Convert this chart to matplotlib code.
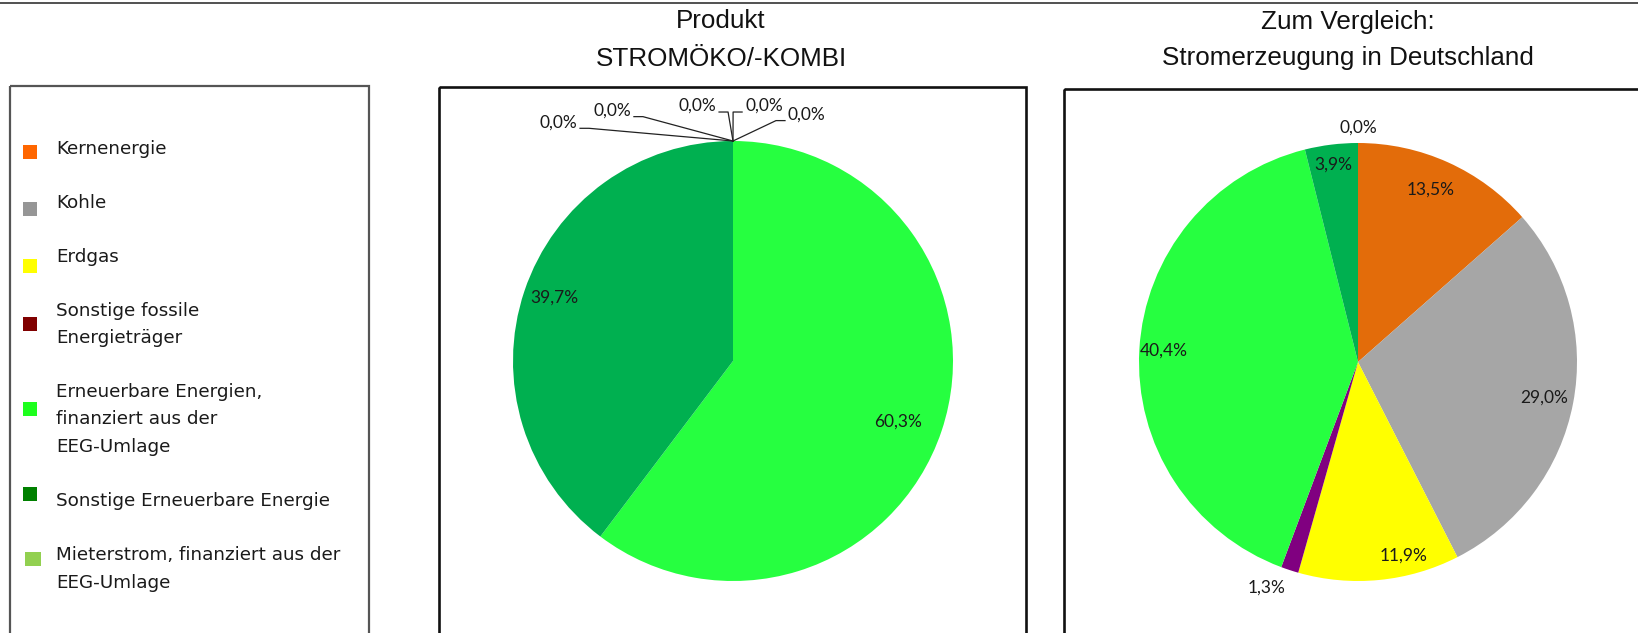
import numpy as np
import matplotlib
matplotlib.use('Agg')
import matplotlib.pyplot as plt
from matplotlib.patches import Rectangle

# --- Data
categories = ['Kernenergie', 'Kohle', 'Erdgas', 'Sonstige fossile\nEnergieträger',
              'Erneuerbare Energien,\nfinanziert aus der\nEEG-Umlage',
              'Sonstige Erneuerbare Energie',
              'Mieterstrom, finanziert aus der\nEEG-Umlage']
produkt_share = [0.0, 0.0, 0.0, 0.0, 60.3, 39.7, 0.0]
deutschland_share = [13.5, 29.0, 11.9, 1.3, 40.4, 3.9, 0.0]
title_produkt = ['Produkt', 'STROMÖKO/-KOMBI']
title_vergleich = ['Zum Vergleich:', 'Stromerzeugung in Deutschland']

legend_colors = ['#ff6600', '#969696', '#ffff00', '#800000', '#1eff1e', '#008000', '#92d050']
pie_colors = ['#e36c0a', '#a6a6a6', '#ffff00', '#800080', '#26ff40', '#00b050', '#92d050']

# --- Layout (pixels)
W, H = 1638, 633
marker_dy = [-1.3, 1.5, 4.5, 8.5, 11.7, -12.3, -1.5]
# label placement for pie 2: (distance from centre, angle offset from wedge middle)
pie2_label_layout = [(0.853, 1.3), (0.864, 0), (0.91, 7.7), (1.114, -3.9), (0.888, 0), (0.907, 0), (1.068, 0)]
pie1_label_layout = [(0.80, -1.5), (0.86, -1.1)]
# zero labels of pie 1: text anchor (x, y) in pie units, alignment
pie1_zero_pos = [(-0.709, 1.085, 'right'), (-0.464, 1.138, 'right'), (-0.077, 1.159, 'right'),
                 (0.055, 1.159, 'left'), (0.25, 1.12, 'left')]

def pct(v):
  return ('%.1f%%' % v).replace('.', ',')

fig = plt.figure(figsize=(W / 100, H / 100), dpi=100)
bg = fig.add_axes([0, 0, 1, 1])
bg.set_xlim(0, W)
bg.set_ylim(H, 0)
bg.axis('off')

# --- frames
bg.plot([0, W], [3, 3], color='#333333', lw=1.2)
bg.add_patch(Rectangle((10, 86), 359, 600, fill=False, ec='#555555', lw=1.6))
bg.add_patch(Rectangle((439, 87), 587, 600, fill=False, ec='#111111', lw=1.9))
bg.add_patch(Rectangle((1064, 89), 700, 600, fill=False, ec='#111111', lw=1.9))

# --- titles
for cx, lines in [(721, title_produkt), (1348, title_vergleich)]:
  for k, line in enumerate(lines):
    bg.text(cx, 28.5 + k * 37, line, ha='center', va='baseline', fontsize=18.7,
            family='Liberation Sans', color='#111111')

# --- legend
y = 153.5
for i, lab in enumerate(categories):
  lines = lab.split('\n')
  for k, line in enumerate(lines):
    bg.text(56, y + k * 27.5, line, va='baseline', fontsize=13.2,
            family='DejaVu Sans', color='#1a1a1a')
  last = i == len(categories) - 1
  mw = 16 if last else 14
  mx = 25 if last else 23
  bg.add_patch(Rectangle((mx, y + marker_dy[i] - 7), mw, 14, color=legend_colors[i], lw=0))
  y += 54 + 27.5 * (len(lines) - 1)

def pie_axes(cx, cy, r):
  ax = fig.add_axes([(cx - r) / W, (H - cy - r) / H, 2 * r / W, 2 * r / H])
  ax.patch.set_alpha(0)
  return ax

label_font = dict(fontsize=12.5, family='Lato', color='#1a1a1a', ha='center', va='center')

# --- Pie 1
ax1 = pie_axes(733, 361, 220)
wedges1, _ = ax1.pie(produkt_share, colors=pie_colors, startangle=90, counterclock=False,
                     wedgeprops=dict(linewidth=0))
ax1.set_xlim(-1, 1)
ax1.set_ylim(-1, 1)
ax1.axis('off')
u = 1 / 220  # one pixel in pie units
nz = 0
zi = 0
for w, v in zip(wedges1, produkt_share):
  mid = np.deg2rad((w.theta1 + w.theta2) / 2)
  if v > 0:
    d, da = pie1_label_layout[nz]
    a = mid + np.deg2rad(da)
    ax1.text(d * np.cos(a), d * np.sin(a), pct(v), **label_font)
    nz += 1
  else:
    tx, ty, ha = pie1_zero_pos[zi]
    zi += 1
    ax1.text(tx, ty, pct(v), fontsize=12.5, family='Lato', color='#1a1a1a', ha=ha, va='center')
    s = 1 if ha == 'left' else -1
    x0 = tx - s * 3 * u
    yl = ty - 6 * u
    x1 = x0 - s * 9 * u
    ax1.plot([x0, x1, np.cos(mid)], [yl, yl, np.sin(mid)], color='#222222', lw=0.9, clip_on=False)

# --- Pie 2
ax2 = pie_axes(1358, 362, 219)
wedges2, _ = ax2.pie(deutschland_share, colors=pie_colors, startangle=90, counterclock=False,
                     wedgeprops=dict(linewidth=0))
ax2.set_xlim(-1, 1)
ax2.set_ylim(-1, 1)
ax2.axis('off')
for w, v, (d, da) in zip(wedges2, deutschland_share, pie2_label_layout):
  a = np.deg2rad((w.theta1 + w.theta2) / 2 + da)
  ax2.text(d * np.cos(a), d * np.sin(a), pct(v), **label_font)

plt.savefig('out.png', dpi=100)
